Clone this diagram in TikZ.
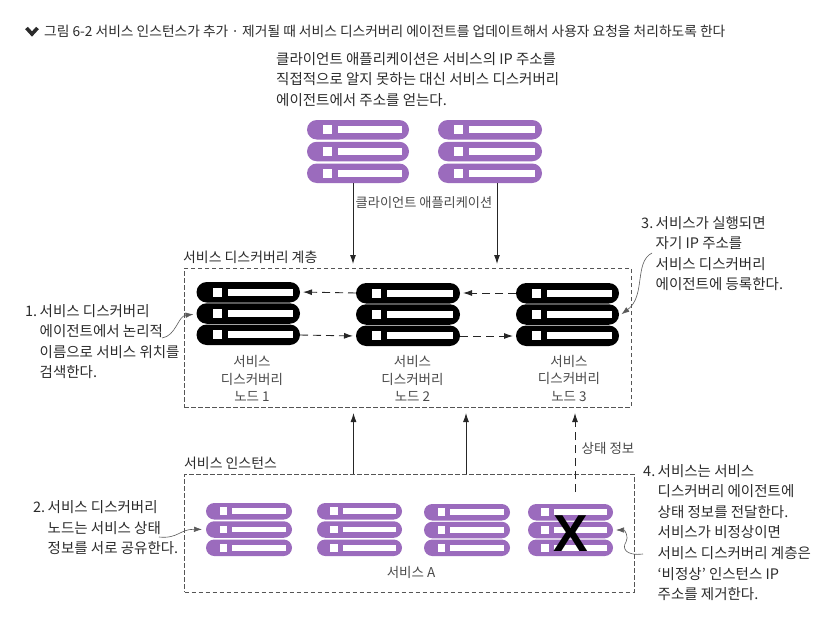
\documentclass[tikz,border=0pt]{standalone}
\usepackage{fontspec}
\setmainfont{Noto Sans CJK KR}
\newfontfamily\xfont{Liberation Sans}
\usetikzlibrary{arrows.meta,calc}
\definecolor{srvpurple}{HTML}{9B6BBD}
\definecolor{txtdark}{HTML}{2B2B2B}
\definecolor{txtgray}{HTML}{4A4A4A}
\definecolor{dashgray}{HTML}{555555}
\newcommand{\srvgroup}[7]{% name, x1, y1, x2, y2, colour, bar height
  \node[srvframe, minimum width=#4pt-#2pt, minimum height=#5pt-#3pt] (#1) at ({(#2+#4)/2},{(#3+#5)/2}) {};
  \pgfmathsetmacro{\gapv}{((#5-#3)-3*#7)/2}
  \foreach \k in {0,1,2}{
    \pgfmathsetmacro{\ya}{#3+\k*(#7+\gapv)}
    \pgfmathsetmacro{\yb}{\ya+#7}
    \pgfmathsetmacro{\ym}{(\ya+\yb)/2}
    \pgfmathsetmacro{\wd}{#4-#2}
    \fill[#6, rounded corners=#7*0.5pt] (#2,\ya) rectangle (#4,\yb);
    \fill[white] ({#2+0.157*\wd},{\ym-0.23*#7}) rectangle ({#2+0.245*\wd},{\ym+0.23*#7});
    \fill[white] ({#2+0.30*\wd},{\ym-0.17*#7}) rectangle ({#2+0.935*\wd},{\ym+0.17*#7});
  }
}
\newcommand{\numitem}[1]{\makebox[14.5pt][l]{#1}}
\newcommand{\ind}{\hspace*{14.5pt}}
\tikzset{
  x=1pt,y=-1pt,
  srvframe/.style={inner sep=0pt,outer sep=0pt},
  note/.style={anchor=north west,inner sep=0pt,align=left,text=txtdark,font=\fontsize{14.5}{20.6}\selectfont},
  lbl/.style={inner sep=0pt,text=txtgray,font=\fontsize{13.5}{17.5}\selectfont},
  tierlabel/.style={anchor=west,inner sep=0pt,text=txtdark,font=\fontsize{13.9}{16}\selectfont},
  tier/.style={draw=dashgray,line width=1pt,dash pattern=on 4.5pt off 2.5pt,inner sep=0pt,outer sep=0pt},
  flow/.style={draw=black!85,line width=0.9pt,-{Latex[length=9pt,width=6pt]}},
  flowdash/.style={flow,dash pattern=on 8pt off 5pt},
  callout/.style={draw=black!65,line width=0.6pt,-{Latex[length=8pt,width=5.5pt]}},
}
\begin{document}
\begin{tikzpicture}
\useasboundingbox (0,0) rectangle (840,626);
% heading
\draw[line width=3.6pt,txtdark] (26.5,28) -- (32,34) -- (37.5,28);
\node[anchor=west,inner sep=0pt,text=txtdark,font=\fontsize{13.75}{16}\selectfont] (title) at (44,31) {그림 6-2 서비스 인스턴스가 추가 · 제거될 때 서비스 디스커버리 에이전트를 업데이트해서 사용자 요청을 처리하도록 한다};
\node[note] (topnote) at (276,52) {클라이언트 애플리케이션은 서비스의 IP 주소를\\직접적으로 알지 못하는 대신 서비스 디스커버리\\에이전트에서 주소를 얻는다.};
% tiers
\node[tier,minimum width=447pt,minimum height=139pt] (disc) at (407.5,337.5) {};
\node[tier,minimum width=449.5pt,minimum height=118pt] (inst) at (409.25,533) {};
\node[tierlabel] (disclabel) at (183,257) {서비스 디스커버리 계층};
\node[tierlabel] (instlabel) at (184,463) {서비스 인스턴스};
% servers
\srvgroup{c1}{307}{120}{409}{183}{srvpurple}{19.5}
\srvgroup{c2}{438}{120}{542}{183}{srvpurple}{19.5}
\srvgroup{d1}{196.5}{282}{300}{345}{black}{20.5}
\srvgroup{d2}{356}{283}{460}{346}{black}{20.5}
\srvgroup{d3}{516}{283}{619}{346}{black}{20.5}
\srvgroup{s1}{206}{503}{292}{556}{srvpurple}{16.5}
\srvgroup{s2}{317}{503}{402}{556}{srvpurple}{16.5}
\srvgroup{s3}{424}{504}{510}{556}{srvpurple}{16.5}
\srvgroup{s4}{528}{504}{613}{556}{srvpurple}{16.5}
\node[inner sep=0pt,font=\xfont\bfseries\fontsize{52}{52}\selectfont] (xmark) at (571,534) {X};
% labels
\node[lbl,anchor=center,font=\fontsize{13.2}{16}\selectfont] (clientlbl) at (424,203) {클라이언트 애플리케이션};
\node[lbl,align=center] (d1lbl) at (252,378.5) {서비스\\디스커버리\\노드 1};
\node[lbl,align=center] (d2lbl) at (412.5,378.5) {서비스\\디스커버리\\노드 2};
\node[lbl,align=center] (d3lbl) at (569,378.5) {서비스\\디스커버리\\노드 3};
\node[lbl] (svcA) at (411,572) {서비스 A};
\node[lbl] (statelbl) at (608,448) {상태 정보};
% notes
\node[note] (n1) at (25,304) {\numitem{1.}서비스 디스커버리\\\ind 에이전트에서 논리적\\\ind 이름으로 서비스 위치를\\\ind 검색한다.};
\node[note] (n2) at (33,500.5) {\numitem{2.}서비스 디스커버리\\\ind 노드는 서비스 상태\\\ind 정보를 서로 공유한다.};
\node[note] (n3) at (641,216) {\numitem{3.}서비스가 실행되면\\\ind 자기 IP 주소를\\\ind 서비스 디스커버리\\\ind 에이전트에 등록한다.};
\node[note] (n4) at (643,464) {\numitem{4.}서비스는 서비스\\\ind 디스커버리 에이전트에\\\ind 상태 정보를 전달한다.\\\ind 서비스가 비정상이면\\\ind 서비스 디스커버리 계층은\\\ind ‘비정상’ 인스턴스 IP\\\ind 주소를 제거한다.};
% connectors
\draw[flow,shorten >=4pt] ([xshift=-5pt]c1.south) -- ([xshift=-5pt]c1.south |- disc.north);
\draw[flow,shorten >=4pt] ([xshift=7pt]c2.south) -- ([xshift=7pt]c2.south |- disc.north);
\draw[flow,shorten >=6pt] (inst.north -| d2.south) ++(-54.5,0) coordinate (u1) -- (u1 |- disc.south);
\draw[flow,shorten >=6pt] (inst.north -| d2.south) ++(58,0) coordinate (u2) -- (u2 |- disc.south);
\draw[flowdash,shorten >=6pt] ([xshift=4.5pt,yshift=12pt]s4.north) coordinate (u3) -- (u3 |- disc.south);
\draw[flowdash,shorten >=3pt] ([yshift=21.5pt]d2.west) -- ([yshift=21.5pt]d1.east);
\draw[flowdash,shorten >=3pt] ([yshift=-21.5pt]d1.east) -- ([yshift=-21.5pt]d2.west);
\draw[flowdash,shorten >=3pt] ([yshift=21.5pt]d3.west) -- ([yshift=21.5pt]d2.east);
\draw[flowdash,shorten >=3pt] ([yshift=-21.5pt]d2.east) -- ([yshift=-21.5pt]d3.west);
% callouts
\coordinate (t1) at (162,338);
\coordinate (t2) at (159,537);
\coordinate (t3) at (652,253);
\coordinate (t4) at (643,554);
\draw[callout,shorten >=3pt] (t1) .. controls (176,336) and (178,316) .. ([yshift=-0.5pt]d1.west);
\draw[callout,shorten >=4pt] (t2) .. controls (178,539) and (180,529) .. (s1.west);
\draw[callout,shorten >=3pt] (t3) .. controls (634,262) and (646,296) .. ([yshift=-1.5pt]d3.east);
\draw[callout,shorten >=3pt] (t4) .. controls (625,556) and (622,548) .. (626,542) .. controls (629,537) and (625,530) .. (s4.east);
\end{tikzpicture}
\end{document}
